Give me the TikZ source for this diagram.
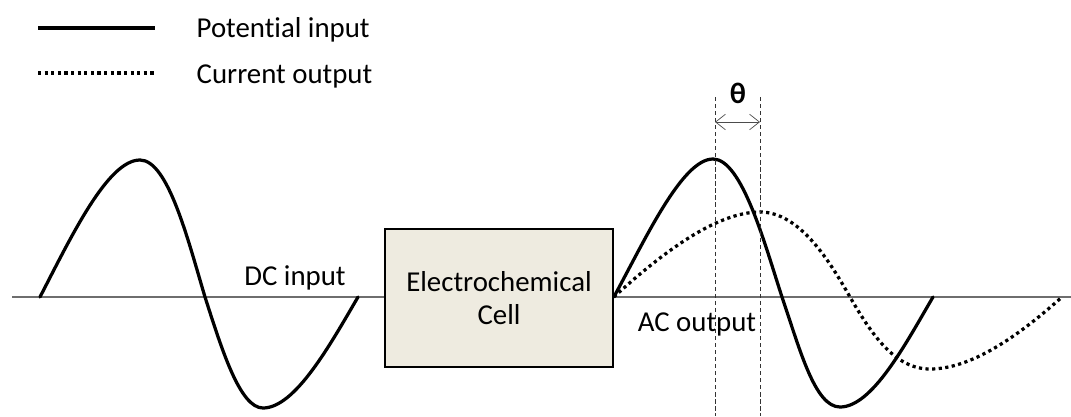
\documentclass[tikz,border=0pt]{standalone}
\usepackage{fontspec}
\setmainfont[Ligatures=NoCommon]{Carlito}
\usetikzlibrary{arrows.meta, positioning}

\definecolor{cellfill}{RGB}{238,235,224}
\definecolor{axisgray}{RGB}{110,110,110}

\begin{document}
\begin{tikzpicture}[
    x=0.025cm, y=-0.025cm,
    font=\fontsize{20.5}{24}\selectfont,
    potential/.style={line width=2.3pt, black, line cap=round},
    current/.style={line width=2.3pt, black, dash pattern=on 2.3pt off 2.4pt},
    axis/.style={line width=0.8pt, axisgray},
    guide/.style={line width=0.5pt, black!80, dash pattern=on 3pt off 2pt},
    cellbox/.style={draw, line width=1.1pt, fill=cellfill, minimum width=5.7cm, minimum height=3.45cm, align=center},
    label/.style={inner sep=1pt},
    arrow/.style={line width=0.5pt, black!70, {Straight Barb[length=7pt,width=11pt]}-{Straight Barb[length=7pt,width=11pt]}}
]
\useasboundingbox (0,0) rectangle (1071,416);

% legend
\coordinate (solidA) at (38,28);
\coordinate (solidB) at (155,28);
\coordinate (dotA) at (38,73);
\coordinate (dotB) at (155,73);
\draw[potential, line width=2.8pt, line cap=butt] (solidA) -- (solidB);
\draw[current] (dotA) -- (dotB);
\node (legpot) [label, anchor=base west] at (195,37) {Potential input};
\node (legcur) [label, anchor=base west] at (195,83) {Current output};

% axis and cell
\node (cell) [cellbox] at (499,298) {Electrochemical\\Cell};
\coordinate (axisL) at (12,297);
\coordinate (axisR) at (1071,297);
\draw[axis] (axisL) -- (cell.west |- axisL);
\draw[axis] (cell.east |- axisR) -- (axisR);

% DC input wave
\draw[potential] (40,297) .. controls (72,235) and (108,160) .. (140,160)
    .. controls (168,160) and (188,240) .. (205,297)
    .. controls (222,350) and (240,408) .. (263,408)
    .. controls (295,408) and (330,345) .. (358,297);
\node (dc) [label, anchor=base] at (295,285) {DC input};

% AC output waves
\draw[potential] (cell.east |- axisR) .. controls (645,240) and (682,159) .. (713,159)
    .. controls (742,159) and (765,245) .. (782,297)
    .. controls (800,350) and (815,407) .. (840,407)
    .. controls (872,407) and (905,345) .. (933,297);
\draw[current] (cell.east |- axisR) .. controls (660,255) and (715,212) .. (760,212)
    .. controls (800,212) and (830,262) .. (850,297)
    .. controls (872,335) and (895,369) .. (930,369)
    .. controls (975,369) and (1025,330) .. (1062,297);
\node (ac) [label, anchor=base] at (697,331) {AC output};

% phase shift
\coordinate (guideAtop) at (715,97);
\coordinate (guideAbot) at (715,416);
\coordinate (guideBtop) at (760,97);
\coordinate (guideBbot) at (760,416);
\draw[guide] (guideAtop) -- (guideAbot);
\draw[guide] (guideBtop) -- (guideBbot);
\draw[arrow] (715,122) -- (760,122);
\node (theta) [label, font=\fontsize{21}{24}\selectfont\bfseries] at (738,93) {θ};
\end{tikzpicture}
\end{document}
